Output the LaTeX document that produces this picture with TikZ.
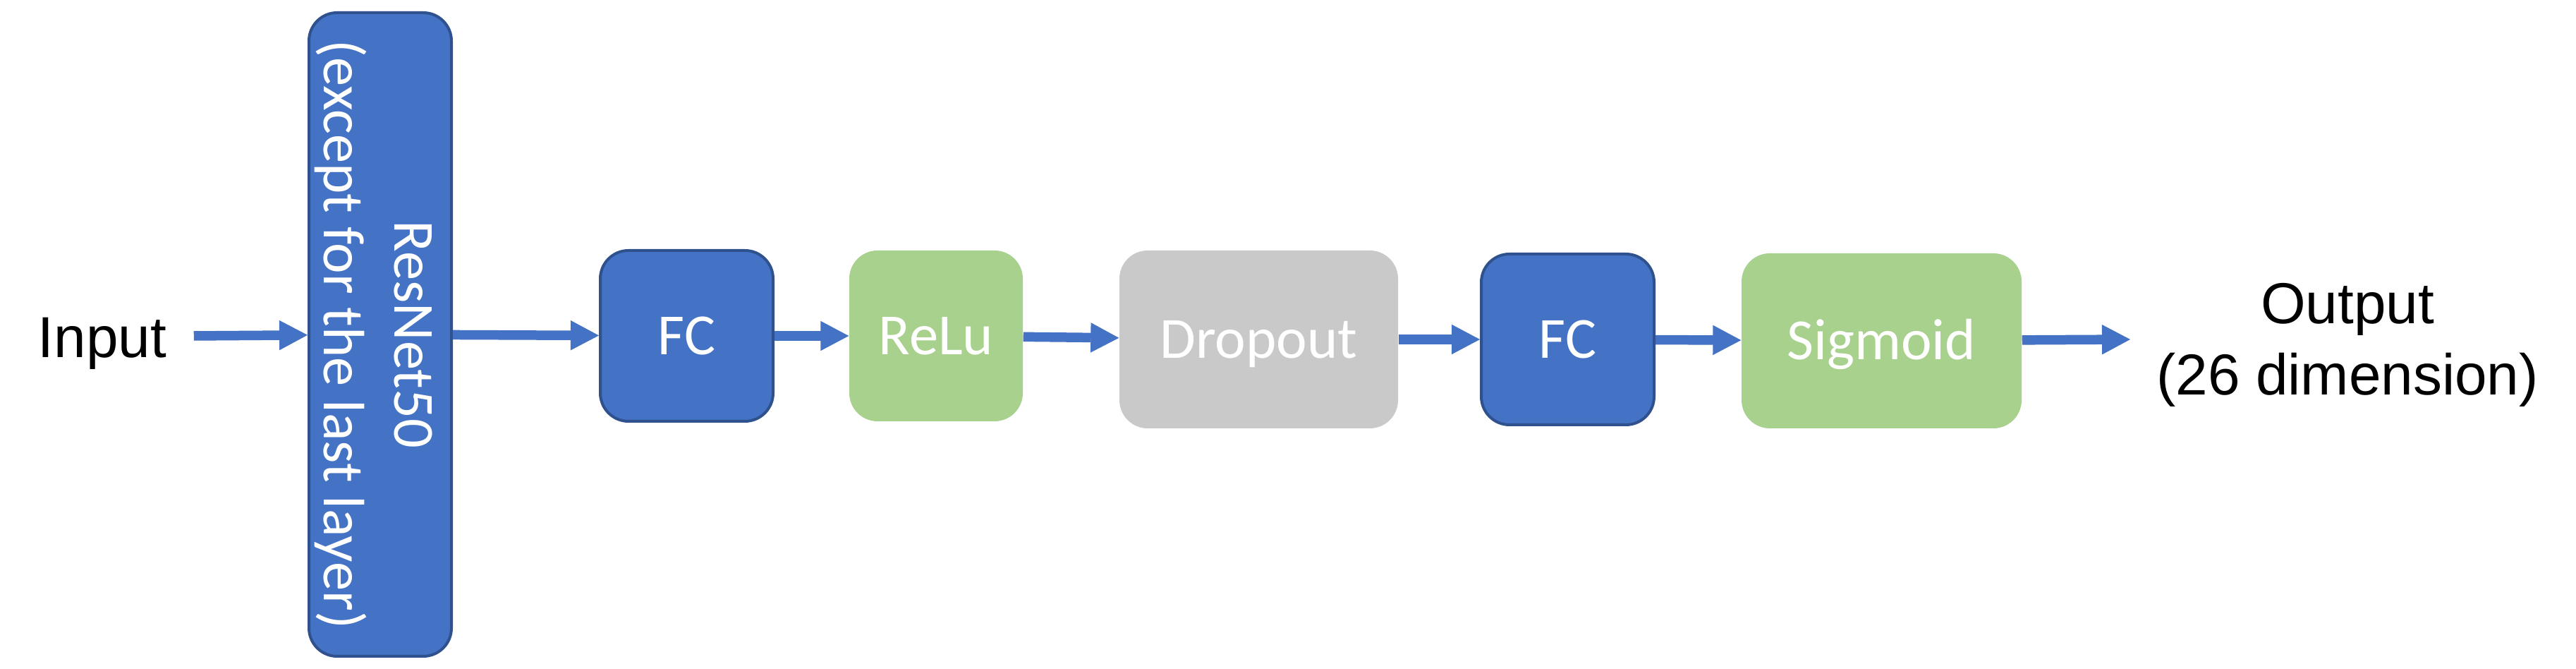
\documentclass[tikz,border=0pt]{standalone}
\usepackage{fontspec}
\setmainfont{Liberation Sans}
\newfontfamily\boxfont{Carlito}
\usetikzlibrary{arrows.meta}
\definecolor{fcblue}{HTML}{4472C4}
\definecolor{fcedge}{HTML}{2F528F}
\definecolor{actgreen}{HTML}{A9D18E}
\definecolor{dropgray}{HTML}{C9C9C9}

\begin{document}
\begin{tikzpicture}[
  layer/.style={rectangle,rounded corners=0.4cm,text=white,inner sep=0pt,
    font=\boxfont\fontsize{23.5}{28.5}\selectfont,text height=15pt,text depth=0pt},
  bluelayer/.style={layer,fill=fcblue,draw=fcedge,line width=0.04cm},
  greenlayer/.style={layer,fill=actgreen},
  graylayer/.style={layer,fill=dropgray},
  plain/.style={font=\fontsize{23.3}{28.7}\selectfont,inner sep=0pt},
  arr/.style={draw=fcblue,line width=0.135cm,-{Triangle[length=0.4cm,width=0.42cm,line width=0.5pt]}}]
  \useasboundingbox (0,0) rectangle (36.52,9.48);

  \node[plain,text height=16.7pt,text depth=0pt] (in) at (1.45, 4.71) {Input};
  \node[bluelayer,minimum width=2.02cm,minimum height=9.12cm] (resnet) at (5.39, 4.74) {};
  \node[rotate=-90,align=center,text=white,inner sep=0pt,
    font=\boxfont\fontsize{23.5}{28.5}\selectfont] (resnettext) at (5.30, 4.74) {ResNet50\\(except for the last layer)};
  \node[bluelayer,minimum width=2.45cm,minimum height=2.42cm] (fc1) at (9.735, 4.72) {FC};
  \node[greenlayer,minimum width=2.46cm,minimum height=2.42cm] (relu) at (13.27, 4.72) {ReLu};
  \node[graylayer,minimum width=3.95cm,minimum height=2.52cm] (drop) at (17.845, 4.67) {Dropout};
  \node[bluelayer,minimum width=2.45cm,minimum height=2.42cm] (fc2) at (22.225, 4.67) {FC};
  \node[greenlayer,minimum width=3.97cm,minimum height=2.48cm] (sig) at (26.675, 4.65) {Sigmoid};
  \node[plain,align=center] (out) at (33.28, 4.59) {Output\\(26 dimension)};
  \coordinate (outtip) at (30.20, 4.67);

  \draw[arr,shorten <=0.38cm] (in) -- (resnet);
  \draw[arr] (resnet) -- (fc1);
  \draw[arr] (fc1) -- (relu);
  \draw[arr] (relu) -- (drop);
  \draw[arr] (drop) -- (fc2);
  \draw[arr] (fc2) -- (sig);
  \draw[arr] (sig) -- (outtip);
\end{tikzpicture}
\end{document}
